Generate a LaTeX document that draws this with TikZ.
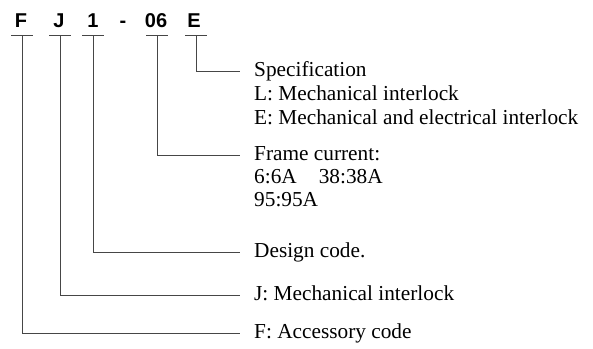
\documentclass[tikz,border=0pt]{standalone}
\usepackage{fontspec}
\setmainfont{Liberation Serif}
\newfontfamily\codefont{Liberation Sans}
\usetikzlibrary{positioning, calc}
\definecolor{leadgray}{RGB}{70,70,70}

\begin{document}
\begin{tikzpicture}[x=1pt, y=-1pt,
  code/.style={font=\codefont\bfseries\fontsize{20}{20}\selectfont, inner sep=0pt, anchor=base},
  desc/.style={font=\fontsize{21.3}{24}\selectfont, anchor=west, inner sep=0pt,
    text height=15pt, text depth=5pt},
  lead/.style={draw=leadgray, line width=0.8pt}]
  \useasboundingbox (0,0) rectangle (593,348);

  % model code
  \node[code] (cf) at (21,27) {F};
  \node[code] (cj) at (59,27) {J};
  \node[code] (c1) at (93,27) {1};
  \node[code] (cdash) at (123,27) {-};
  \node[code] (c06) at (156,27) {06};
  \node[code] (ce) at (194,27) {E};

  % ticks under the code
  \coordinate (tf) at (22,35);
  \coordinate (tj) at (60,35);
  \coordinate (t1) at (93,35);
  \coordinate (t06) at (157,35);
  \coordinate (te) at (196,35);
  \foreach \t in {tf,tj,t1,t06,te}
    \draw[lead] ($(\t)+(-11,0)$) -- ($(\t)+(11,0)$);

  % descriptions
  \node[desc] (spec) at (254,71) {Specification};
  \node[desc] (specl) at (254,95) {L: Mechanical interlock};
  \node[desc] (spece) at (254,119) {E: Mechanical and electrical interlock};
  \node[desc] (frame) at (254,155) {Frame current:};
  \node[desc] (frame1) at (254,178) {6:6A\hspace*{22pt}38:38A};
  \node[desc] (frame2) at (254,201) {95:95A};
  \node[desc] (design) at (254,252) {Design code.};
  \node[desc] (inter) at (254,295) {J: Mechanical interlock};
  \node[desc] (acc) at (254,333) {F: Accessory code};

  % leaders
  \draw[lead] (te) |- ([xshift=-14pt]spec.west);
  \draw[lead] (t06) |- ([xshift=-14pt]frame.west);
  \draw[lead] (t1) |- ([xshift=-14pt]design.west);
  \draw[lead] (tj) |- ([xshift=-14pt]inter.west);
  \draw[lead] (tf) |- ([xshift=-14pt]acc.west);
\end{tikzpicture}
\end{document}
